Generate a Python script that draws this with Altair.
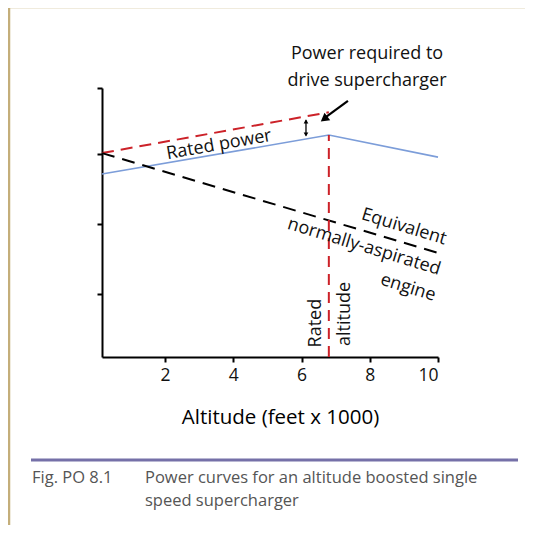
import altair as alt
import pandas as pd

# ---- data ----
blue_x = [0.15, 6.8, 10.0]
blue_y = [68.0, 82.5, 74.3]
red_x = [0.15, 6.8]
red_y = [75.8, 91.0]
black_x = [0.15, 10.0]
black_y = [75.8, 38.7]
rated_alt = 6.8
rated_alt_y = [0.0, 82.5]
x_ticks = [2, 4, 6, 8, 10]
y_ticks = [23.5, 49.5, 75.5, 100]

FONT = "Open Sans"
W, H = 336, 269

xs = alt.Scale(domain=[0.15, 10], nice=False, zero=False)
ys = alt.Scale(domain=[0, 100], nice=False, zero=False)

df_blue = pd.DataFrame({"x": blue_x, "y": blue_y})
df_red = pd.DataFrame({"x": red_x, "y": red_y})
df_black = pd.DataFrame({"x": black_x, "y": black_y})
df_vert = pd.DataFrame({"x": [rated_alt, rated_alt], "y": rated_alt_y})

base_x = alt.X("x:Q", scale=xs, axis=alt.Axis(
    values=x_ticks, title="Altitude (feet x 1000)", grid=False,
    domainColor="black", domainWidth=2, tickColor="black", tickWidth=2, tickSize=5,
    labelFontSize=17.5, labelColor="#111", labelFont=FONT, labelPadding=4,
    titleFontSize=20.5, titleFont=FONT, titleFontWeight=500, titleColor="black",
    titleX=178, titleY=60, titleBaseline="middle"))
base_y = alt.Y("y:Q", scale=ys, axis=alt.Axis(
    values=y_ticks, labels=False, title=None, grid=False,
    domainColor="black", domainWidth=2, tickColor="black", tickWidth=2, tickSize=5))

blue = alt.Chart(df_blue).mark_line(color="#7C9DD9", strokeWidth=1.6).encode(x=base_x, y=base_y)
red = alt.Chart(df_red).mark_line(color="#CC2229", strokeWidth=2, strokeDash=[12, 7]).encode(x="x:Q", y="y:Q")
black = alt.Chart(df_black).mark_line(color="black", strokeWidth=2, strokeDash=[13, 8]).encode(x="x:Q", y="y:Q")
vert = alt.Chart(df_vert).mark_line(color="#CC2229", strokeWidth=2, strokeDash=[11, 7]).encode(x="x:Q", y="y:Q")

# double arrow (power required to drive supercharger)
dbl_x = [6.13, 6.13]
dbl_y = [88.0, 82.3]
dbl = alt.Chart(pd.DataFrame({"x": dbl_x, "y": dbl_y})).mark_line(color="black", strokeWidth=1.3).encode(x="x:Q", y="y:Q")
dbl_heads = alt.Chart(pd.DataFrame({"x": dbl_x, "y": [87.6, 82.7], "a": [0, 180]})).mark_point(
    shape="triangle-up", filled=True, color="black", size=22, opacity=1).encode(
    x="x:Q", y="y:Q", angle=alt.Angle("a:Q", scale=None))

# pointer arrow
arr_x = [7.36, 6.68]
arr_y = [95.2, 88.9]
arr = alt.Chart(pd.DataFrame({"x": arr_x, "y": arr_y})).mark_line(color="black", strokeWidth=2.2).encode(x="x:Q", y="y:Q")
arr_head = alt.Chart(pd.DataFrame({"x": [6.66], "y": [88.5]})).mark_point(
    shape="triangle-up", filled=True, color="black", size=90, opacity=1, angle=233).encode(x="x:Q", y="y:Q")

# annotations in data space
ann = pd.DataFrame({
    "x": [3.58, 9.0, 7.83, 9.12, 6.43, 7.28, 7.92, 7.92],
    "y": [78.8, 48.3, 40.9, 25.7, 12.6, 16.0, 112.6, 102.6],
    "t": ["Rated power", "Equivalent", "normally-aspirated", "engine", "Rated", "altitude",
          "Power required to", "drive supercharger"],
    "a": [350, 17, 17, 17, 270, 270, 0, 0],
})
texts = alt.Chart(ann).mark_text(font=FONT, fontSize=18, color="#111", align="center", baseline="middle").encode(
    x="x:Q", y="y:Q", text="t:N", angle=alt.Angle("a:Q", scale=None))

# frame, divider and caption (page decorations)
frame_top = alt.Chart(pd.DataFrame({"k": [0]})).mark_rule(color="#C4AE7A", strokeWidth=2.5).encode(
    x=alt.value(-94), x2=alt.value(423), y=alt.value(-81))
frame_left = alt.Chart(pd.DataFrame({"k": [0]})).mark_rule(color="#C4AE7A", strokeWidth=2.5).encode(
    x=alt.value(-93), y=alt.value(-82), y2=alt.value(437))
divider = alt.Chart(pd.DataFrame({"k": [0]})).mark_rule(color="#7570A8", strokeWidth=3).encode(
    x=alt.value(-71), x2=alt.value(416), y=alt.value(372))
cap1 = alt.Chart(pd.DataFrame({"t": ["Fig. PO 8.1"]})).mark_text(
    font=FONT, fontSize=16.5, color="#555", align="left", baseline="middle").encode(
    x=alt.value(-70), y=alt.value(390), text="t:N")
cap2 = alt.Chart(pd.DataFrame({"t": ["Power curves for an altitude boosted single"]})).mark_text(
    font=FONT, fontSize=16.5, color="#555", align="left", baseline="middle").encode(
    x=alt.value(43), y=alt.value(390), text="t:N")
cap3 = alt.Chart(pd.DataFrame({"t": ["speed supercharger"]})).mark_text(
    font=FONT, fontSize=16.5, color="#555", align="left", baseline="middle").encode(
    x=alt.value(43), y=alt.value(413), text="t:N")

chart = alt.layer(
    blue, red, black, vert, dbl, dbl_heads, arr, arr_head, texts,
    frame_top, frame_left, divider, cap1, cap2, cap3
).properties(
    width=W, height=H,
    autosize=alt.AutoSizeParams(type="none"),
    padding={"left": 94, "top": 80, "right": 87, "bottom": 176},
    background="white",
).configure_view(stroke=None)

chart.save("out.html", embed_options={"renderer": "svg", "actions": False})
